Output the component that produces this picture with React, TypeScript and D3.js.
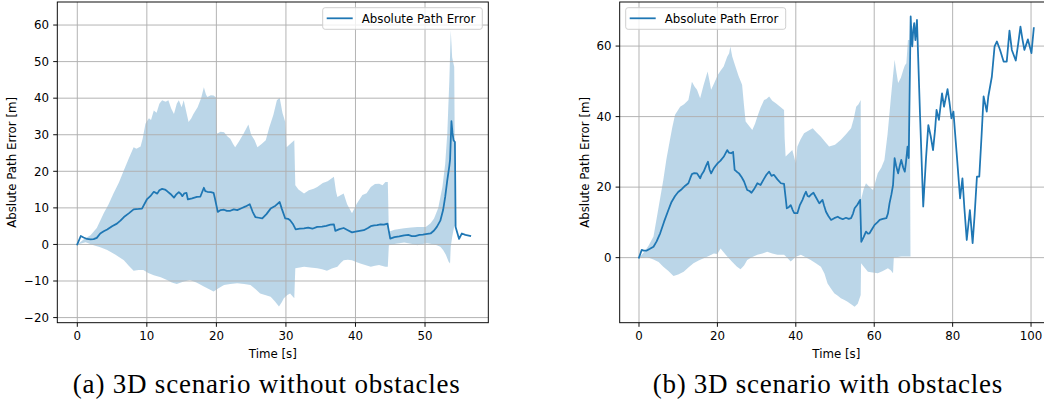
import React from "react";
import * as d3 from "d3";

// ---------- Panel (a): 3D scenario without obstacles ----------
const aMeanT = [0,0.5,0.9,1.4,1.9,2.35,2.8,3.3,3.8,4.3,5.0,5.7,6.2,6.7,7.4,8.1,8.8,9.3,10.0,10.5,11.0,11.5,11.8,12.2,12.6,12.9,13.4,13.9,14.2,14.6,14.9,15.1,15.4,15.7,15.9,16.5,17.2,17.7,18.2,18.4,18.7,19.2,19.6,19.8,20.2,20.6,21.1,21.5,22.0,22.5,23.0,23.6,24.2,24.8,25.2,25.6,26.1,26.6,27.2,27.8,28.5,29.1,29.4,29.9,30.3,30.6,31.0,31.4,32.0,32.6,33.2,33.8,34.5,35.2,35.8,36.4,36.9,37.1,37.7,38.3,38.9,39.5,40.0,40.6,41.2,41.8,42.2,42.7,43.1,43.6,44.1,44.6,45.0,45.6,46.3,47.0,47.6,48.1,48.6,49.2,49.7,50.1,50.8,51.3,51.7,52.2,52.6,52.9,53.2,53.5,53.6,53.8,53.95,54.1,54.3,54.4,54.9,55.3,55.8,56.5];
const aMeanV = [0,2.3,1.9,1.5,1.4,1.45,1.8,3.0,3.6,4.1,5.0,5.7,6.5,7.5,8.5,9.6,9.7,9.8,12.3,13.2,14.4,13.9,14.8,15.2,15.0,14.6,13.8,12.8,13.6,14.3,13.8,13.2,14.0,14.1,12.3,12.6,13.0,13.1,15.5,14.6,14.4,14.3,14.1,12.5,8.9,9.4,9.5,9.2,9.2,9.6,9.4,9.9,10.4,11.0,9.0,7.5,7.3,7.1,8.3,9.8,10.6,11.6,9.8,7.1,7.0,6.6,5.6,4.1,4.3,4.4,4.6,4.3,4.8,4.9,5.1,5.4,5.5,3.7,4.2,4.5,3.9,3.3,3.5,3.7,3.9,4.5,5.0,5.2,5.3,5.5,5.4,5.7,1.6,2.0,2.2,2.5,2.6,2.3,2.3,2.6,2.7,2.8,3.0,3.8,4.8,6.5,9.4,13,17.5,21.5,23.2,33.7,30.5,28.5,28.0,4.8,1.5,3.0,2.6,2.3];

const aUpperT = [0,1.0,1.9,2.8,3.8,4.5,5.2,6.0,6.7,7.4,8.1,8.5,9.1,9.4,9.8,10.3,10.6,11.0,11.4,11.8,12.2,12.7,13.1,13.5,13.9,14.3,14.6,15.0,15.3,15.7,16.0,16.4,16.7,17.3,17.8,18.2,18.5,18.7,19.2,19.6,19.95,20.05,20.6,21.1,21.6,22.0,22.4,22.7,23.2,23.9,24.6,25.0,25.5,25.9,26.5,27.1,27.6,28.2,28.7,29.1,29.5,29.9,30.1,30.6,31.2,31.35,31.8,32.6,33.3,34.0,34.5,35.3,36.0,36.9,37.2,37.4,38.3,38.8,39.5,40.2,41.0,41.6,42.2,42.8,43.4,43.9,44.3,44.65,44.8,45.6,46.3,47.0,48.0,48.9,50.1,50.8,51.3,51.9,52.5,52.9,53.2,53.5,53.7,53.8,53.9,54.2,54.35];
const aUpperV = [0,1.5,2.5,4.5,8.5,11,13.9,17,20.3,23.5,26.6,26.2,26.8,29,33,34.5,34,36.6,36.0,38.5,39.4,39.0,39.4,37.2,35.7,38.5,39.4,37.5,39.4,36,33.5,34.5,35.7,37.5,40,43,41,40.3,40.8,40.7,40.2,30.3,30.8,30.7,29.5,28.9,27.5,26.6,28,30.3,32.8,30,28.5,26.6,27.5,28.5,32,35.5,39.4,40.1,36,33.5,26.6,27.5,28.5,16.2,15,13.9,14.8,15.2,15.7,16.8,17.3,18.5,14.5,13,13.9,11,8.5,11.2,13.5,14,15.7,16.5,16.6,16.2,17.1,17.1,3.5,4.0,4.2,4.4,4.6,4.8,4.8,5.8,7.1,10,15.7,22,30.3,45,58.5,55,51.2,48.5,5];

const aLowerT = [0,1.2,2.35,3.3,4.3,5.5,6.7,7.4,8.1,8.8,9.5,10.2,11.0,12.0,12.9,13.6,14.3,15.2,16.2,17.2,18.2,18.9,19.6,20.3,21.1,22.0,23.0,24.0,24.9,25.6,26.3,27.0,27.8,28.4,29.0,29.4,29.7,30.2,30.6,31.2,31.35,32.0,32.6,33.5,34.5,35.2,35.9,36.6,37.4,37.9,38.3,38.9,39.5,40.1,40.7,41.5,42.2,42.8,43.4,43.9,44.3,44.65,44.8,45.8,47.0,48.0,48.9,49.6,50.3,51.0,51.7,52.2,52.6,53.0,53.4,53.6,53.7,53.9,54.2,54.35];
const aLowerV = [0,0.6,-0.2,-0.8,-1.5,-2.8,-4.3,-5.8,-7.2,-7.0,-7.0,-7.8,-8.4,-9.0,-9.7,-10.4,-10.8,-10.2,-9.7,-10.5,-11.5,-12.2,-12.9,-12.0,-11.1,-10.8,-10.6,-10.8,-11.1,-12.2,-13.4,-13.8,-14.3,-15.5,-17.0,-15.8,-14.7,-13.8,-13.4,-14.7,-6.5,-6.3,-6.1,-6.3,-6.5,-6.8,-7.2,-6.6,-6.1,-5.0,-4.3,-4.2,-4.3,-4.8,-5.2,-5.7,-6.1,-5.8,-5.6,-5.9,-6.1,-6.1,-0.2,0.2,0.5,0.2,-0.2,0.1,0.3,0.1,-0.2,-0.6,-1.5,-2.8,-4.7,-5.2,-0.6,2,5,5];

const aXTicks = [0,10,20,30,40,50];
const aYTicks = [-20,-10,0,10,20,30,40,50,60];

// ---------- Panel (b): 3D scenario with obstacles ----------
const bMeanT = [0,0.7,1.2,2.0,2.8,3.7,4.5,5.4,6.4,7.5,8.3,9.2,10.0,10.9,11.8,12.6,13.1,13.5,14.1,14.8,15.2,15.6,16.0,16.5,17.1,17.6,18.0,18.4,19.0,19.5,20.1,20.8,21.6,22.5,22.9,23.5,24.0,24.4,25.0,25.5,26.2,26.8,27.2,27.6,28.2,28.7,29.5,30.2,31.0,31.8,32.5,33.2,33.8,34.4,35.3,36.2,37.0,37.4,37.7,38.2,38.7,39.2,39.6,40.4,41.0,41.7,42.2,42.6,43.0,43.4,44.0,44.5,45.2,46.0,46.8,47.2,47.7,48.3,49.0,49.8,50.7,51.3,51.97,52.8,53.5,54.1,54.6,55.0,55.7,56.4,56.7,57.3,57.9,58.4,58.8,59.5,60.1,60.8,61.4,62.2,63.1,63.5,63.9,64.4,64.8,65.2,65.6,66.1,66.5,66.9,67.4,67.8,68.1,68.5,68.8,69.3,69.5,69.7,69.95,70.2,70.5,70.9,71.7,72.5,73.2,73.8,74.4,75.0,75.5,75.9,76.5,77.3,77.8,78.7,79.2,79.7,80.2,81.0,81.9,82.5,83.0,83.6,84.4,85.1,85.6,86.2,86.8,87.4,87.9,88.7,89.1,90.0,90.7,91.3,92.1,93.0,93.8,94.5,95.1,96.1,96.7,97.3,97.8,98.3,99.2,100.1,100.7];
const bMeanV = [0,2.2,2.0,2.0,2.5,3.1,4.6,6.9,10.2,13.5,15.8,17.5,18.6,19.4,20.4,21.1,22.6,23.7,24.0,23.9,23.2,22.5,23.6,24.4,26.0,27.2,25.0,23.9,25.2,26.0,26.8,27.5,28.6,30.5,29.8,29.6,30.0,24.9,24.3,23.9,22.8,21.6,20.4,19.2,18.9,18.4,19.7,21.1,20.6,22.2,23.5,24.4,23.2,23.5,22.2,21.1,20.9,17.0,14.0,14.3,14.9,13.5,12.6,12.6,14.8,16.4,17.8,18.7,17.5,17.3,18.0,18.4,17.0,15.4,16.4,14.8,13.0,11.8,10.7,11.2,11.6,11.2,10.9,11.3,11.0,11.2,12.5,14.0,15.0,16.4,4.5,5.8,7.4,6.8,6.9,8.2,9.3,10.0,10.7,11.0,11.2,12.5,15.4,18.0,20.6,28.2,26.0,23.9,26.0,27.7,25.5,24.4,27.0,31.5,28.2,68.4,63.0,59.9,64.5,66.5,61.7,67.4,40.0,14.5,28.0,37.6,34.5,30.5,36.0,41.9,39.1,46.6,42.8,47.8,44.0,39.5,41.4,30.0,16.8,22.5,14.0,5.0,13.5,4.1,12.0,23.0,23.0,35.0,45.7,41.4,45.7,51.3,59.9,61.3,58.9,55.6,55.6,64.4,58.9,55.9,60.5,65.5,62.0,58.9,61.9,58.0,65.1];

const bUpperT = [0,1.5,2.5,3.7,4.8,6.2,7.0,7.9,8.5,9.2,10.5,11.5,12.6,13.1,13.5,14.2,14.8,15.6,16.5,17.5,18.0,18.4,19.2,20.1,20.8,21.6,22.5,23.0,23.3,23.8,24.6,25.4,26.3,26.8,27.2,28.0,28.9,29.6,30.2,31.0,31.9,32.5,33.2,34.0,34.9,36.0,37.0,37.15,37.4,38.2,39.1,40.0,40.4,41.2,42.1,43.2,44.3,45.3,46.4,47.5,48.5,50.0,51.5,52.8,54.1,54.8,55.4,56.0,56.55,56.65,57.3,57.9,58.8,59.7,60.3,60.9,61.8,62.6,63.4,64.2,64.7,65.2,65.6,66.1,66.8,67.4,67.8,68.2,68.6,69.0,69.25];
const bUpperV = [0,1.8,3.5,6,13,22,28,33.4,37,40.5,42.8,43.5,44.7,47.5,49.9,48.5,47.6,45.2,49.0,52.8,50.0,47.6,49.5,51.8,53.0,54.2,57,58,59.9,57,54.2,51.5,49,43,38.6,37.5,36.2,38,40,42.5,44.7,45.0,45.7,44.5,43.8,42.8,41.9,34,28.7,29.5,30.5,26.8,31.5,33.5,35.3,36.0,36.7,35.5,34.3,32.8,31.5,32.0,33.4,35.0,36.7,39.5,42.8,43.5,44.7,16.4,19.5,21.1,20.0,19.2,21.5,23.9,25.5,27.7,35.0,44.7,50.5,56.1,53.0,49.5,51.0,53.2,54.5,55.1,61.7,61.7,0.3];

const bLowerT = [0,2.0,3.7,5.0,6.2,7.5,8.8,10.0,11.4,12.6,13.9,15.2,16.5,17.8,19.1,20.0,20.8,21.6,22.5,23.8,25.0,25.9,26.8,27.6,28.9,30.2,31.5,32.7,34.0,35.3,37.0,37.8,38.7,39.9,41.3,42.5,43.8,45.1,46.4,47.3,48.1,49.0,49.8,50.7,51.5,52.4,53.2,54.1,55.0,55.8,56.55,56.65,57.5,58.4,59.6,60.9,62.2,63.5,64.2,64.8,65.0,66.0,66.9,68.0,69.25];
const bLowerV = [0,0.2,-0.5,-1.2,-2.6,-3.8,-5.2,-4.8,-4.0,-2.8,-1.6,-0.8,-0.2,0.5,1.2,1.0,2.6,1.5,0.3,-1.2,-2.6,-3.3,-2.2,-0.7,0.2,0.8,1.2,1.7,1.2,0.8,0.8,0.0,-1.1,0.2,0.8,0.1,-0.7,-1.6,-2.6,-4.5,-7.3,-8.8,-10.1,-10.8,-11.5,-12.0,-12.5,-13.2,-13.9,-13.1,-10.6,-1.6,-2.8,-4.0,-4.2,-4.4,-3.8,-3.0,-3.6,-4.4,0.1,0.2,0.3,0.3,0.3];

const bXTicks = [0,20,40,60,80,100];
const bYTicks = [0,20,40,60];

const LEGEND_LABEL = "Absolute Path Error";
const Y_LABEL = "Abslute Path Error [m]";
const X_LABEL = "Time [s]";

const BLUE = "#1f77b4";
const FONT = "DejaVu Sans, sans-serif";
const FS = 11.8;
const TOP = 2;
const BOTTOM = 322.7;

type PanelProps = {
  id: string;
  left: number;
  right: number;
  xDomain: [number, number];
  yDomain: [number, number];
  xTicks: number[];
  yTicks: number[];
  meanT: number[];
  meanV: number[];
  upT: number[];
  upV: number[];
  loT: number[];
  loV: number[];
  legendX: number;
  legendW: number;
  yLabelX: number;
  caption: string;
  captionX: number;
  captionW: number;
};

function fmt(v: number) {
  return v < 0 ? "\u2212" + Math.abs(v) : String(v);
}

function Panel(p: PanelProps) {
  const x = d3.scaleLinear().domain(p.xDomain).range([p.left, p.right]);
  const y = d3.scaleLinear().domain(p.yDomain).range([BOTTOM, TOP]);
  const line = d3.line<[number, number]>().x((d) => x(d[0])).y((d) => y(d[1]));
  const mean: [number, number][] = p.meanT.map((t, i) => [t, p.meanV[i]]);
  const up: [number, number][] = p.upT.map((t, i) => [t, p.upV[i]]);
  const lo: [number, number][] = p.loT.map((t, i) => [t, p.loV[i]]);
  const poly = up.concat(lo.slice().reverse());
  const bandPath = (line(poly) || "") + "Z";
  const clipId = "clip-" + p.id;
  const tickLen = 4.1;
  const w = p.right - p.left;
  const lgTop = 7.7;
  const lgH = 21.6;
  return (
    <g>
      <defs>
        <clipPath id={clipId}>
          <rect x={p.left} y={TOP} width={w} height={BOTTOM - TOP} />
        </clipPath>
      </defs>
      <g clipPath={`url(#${clipId})`}>
        <path d={bandPath} fill={BLUE} fillOpacity={0.3} stroke="none" />
        {p.xTicks.map((t) => (
          <line key={"gx" + t} x1={x(t)} x2={x(t)} y1={TOP} y2={BOTTOM} stroke="#b0b0b0" strokeWidth={0.95} />
        ))}
        {p.yTicks.map((t) => (
          <line key={"gy" + t} x1={p.left} x2={p.right} y1={y(t)} y2={y(t)} stroke="#b0b0b0" strokeWidth={0.95} />
        ))}
        <path d={line(mean) || ""} fill="none" stroke={BLUE} strokeWidth={1.77} strokeLinejoin="round" strokeLinecap="square" />
      </g>
      <rect x={p.left} y={TOP} width={w} height={BOTTOM - TOP} fill="none" stroke="#000" strokeWidth={0.95} />
      {p.xTicks.map((t) => (
        <g key={"tx" + t}>
          <line x1={x(t)} x2={x(t)} y1={BOTTOM} y2={BOTTOM + tickLen} stroke="#000" strokeWidth={0.95} />
          <text x={x(t)} y={BOTTOM + 8.3 + 9.2} textAnchor="middle" fontFamily={FONT} fontSize={FS} fill="#000">
            {fmt(t)}
          </text>
        </g>
      ))}
      {p.yTicks.map((t) => (
        <g key={"ty" + t}>
          <line x1={p.left - tickLen} x2={p.left} y1={y(t)} y2={y(t)} stroke="#000" strokeWidth={0.95} />
          <text x={p.left - 8.3} y={y(t)} dy="0.36em" textAnchor="end" fontFamily={FONT} fontSize={FS} fill="#000">
            {fmt(t)}
          </text>
        </g>
      ))}
      <text x={p.left + w / 2} y={357.5} textAnchor="middle" fontFamily={FONT} fontSize={FS} fill="#000">
        {X_LABEL}
      </text>
      <text
        transform={`translate(${p.yLabelX},${(TOP + BOTTOM) / 2}) rotate(-90)`}
        textAnchor="middle"
        dominantBaseline="central"
        fontFamily={FONT}
        fontSize={FS}
        fill="#000"
      >
        {Y_LABEL}
      </text>
      <g>
        <rect x={p.legendX} y={lgTop} width={p.legendW} height={lgH} rx={2.4} fill="#fff" fillOpacity={0.8} stroke="#cccccc" strokeWidth={0.95} />
        <line x1={p.legendX + 4} x2={p.legendX + 30} y1={lgTop + 10.6} y2={lgTop + 10.6} stroke={BLUE} strokeWidth={1.77} />
        <text x={p.legendX + 39} y={lgTop + 10.6} dy="0.36em" fontFamily={FONT} fontSize={FS} fill="#000">
          {LEGEND_LABEL}
        </text>
      </g>
      <text
        x={p.captionX}
        y={393}
        textAnchor="middle"
        fontFamily="Liberation Serif, serif"
        fontSize={27}
        fill="#000"
        textLength={p.captionW}
        lengthAdjust="spacing"
      >
        {p.caption}
      </text>
    </g>
  );
}

export default function App() {
  return (
    <svg
      width={1044}
      height={419}
      style={{ position: "absolute", left: 0, top: 0, background: "#fff" }}
    >
      <rect x={0} y={0} width={1044} height={419} fill="#fff" />
      <Panel
        id="a"
        left={57.3}
        right={488.3}
        xDomain={[-2.876, 59.1]}
        yDomain={[-21.4, 66.3]}
        xTicks={aXTicks}
        yTicks={aYTicks}
        meanT={aMeanT}
        meanV={aMeanV}
        upT={aUpperT}
        upV={aUpperV}
        loT={aLowerT}
        loV={aLowerV}
        legendX={322.7}
        legendW={159.6}
        yLabelX={12}
        caption="(a) 3D scenario without obstacles"
        captionX={266.3}
        captionW={387}
      />
      <Panel
        id="b"
        left={619.7}
        right={1053}
        xDomain={[-4.92, 105.6]}
        yDomain={[-18.45, 72.5]}
        xTicks={bXTicks}
        yTicks={bYTicks}
        meanT={bMeanT}
        meanV={bMeanV}
        upT={bUpperT}
        upV={bUpperV}
        loT={bLowerT}
        loV={bLowerV}
        legendX={625.7}
        legendW={160}
        yLabelX={584.5}
        caption="(b) 3D scenario with obstacles"
        captionX={827.5}
        captionW={349.6}
      />
    </svg>
  );
}
